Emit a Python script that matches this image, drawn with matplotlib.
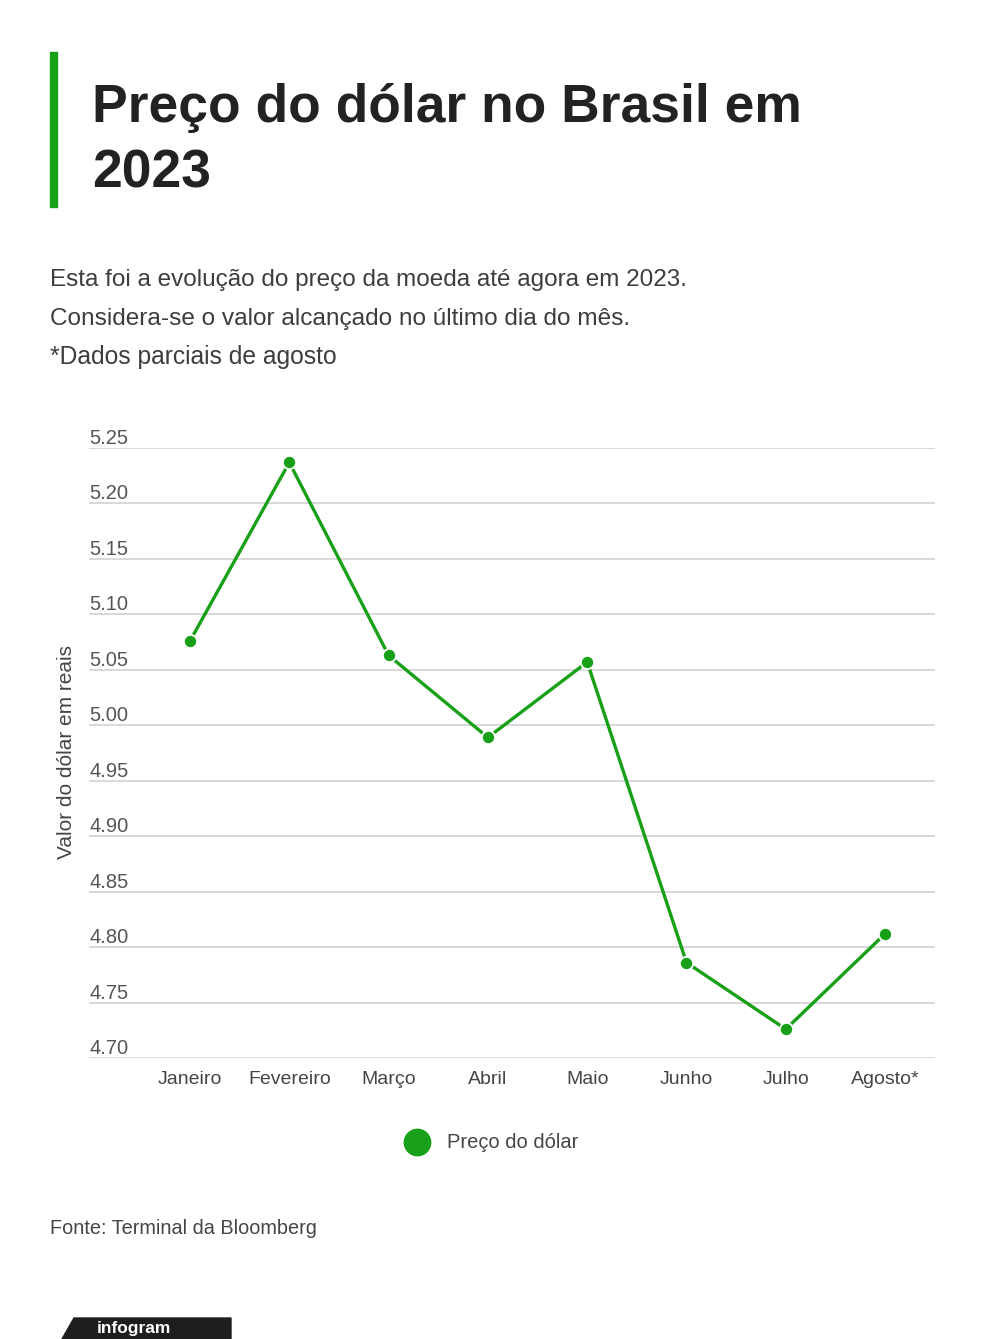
import matplotlib
matplotlib.use("Agg")
import matplotlib.pyplot as plt
from matplotlib.patches import Rectangle, Polygon
from matplotlib.lines import Line2D
import matplotlib.transforms as mtransforms

# ---------------- data ----------------
months = ["Janeiro", "Fevereiro", "Março", "Abril", "Maio", "Junho", "Julho", "Agosto*"]
prices = [5.076, 5.237, 5.063, 4.989, 5.057, 4.786, 4.726, 4.812]
yticks = [4.70, 4.75, 4.80, 4.85, 4.90, 4.95, 5.00, 5.05, 5.10, 5.15, 5.20, 5.25]
ytick_labels = ["4.70", "4.75", "4.80", "4.85", "4.90", "4.95", "5.00", "5.05", "5.10", "5.15", "5.20", "5.25"]

title_lines = ["Preço do dólar no Brasil em", "2023"]
subtitle_lines = ["Esta foi a evolução do preço da moeda até agora em 2023.",
                  "Considera-se o valor alcançado no último dia do mês.",
                  "*Dados parciais de agosto"]
ylabel = "Valor do dólar em reais"
legend_label = "Preço do dólar"
source = "Fonte: Terminal da Bloomberg"

GREEN = "#18a018"
FONT = ["Liberation Sans", "DejaVu Sans"]

W, H = 1000, 1339
fig = plt.figure(figsize=(W / 100, H / 100), dpi=100)
fig.patch.set_facecolor("white")

def X(px):
    return px / W

def Y(py):
    return 1 - py / H

renderer = fig.canvas.get_renderer()

def fit(t, target_w):
    w = t.get_window_extent(renderer).width
    t.set_fontsize(t.get_fontsize() * target_w / w)

# ---------------- header ----------------
fig.patches.append(Rectangle((X(50), Y(207)), X(7), (207 - 52) / H,
                             transform=fig.transFigure, color=GREEN))
t1 = fig.text(X(92), Y(122), title_lines[0], fontsize=40, fontweight="bold",
              color="#222222", family=FONT, va="baseline", ha="left")
fit(t1, 708)
t2 = fig.text(X(92), Y(188), title_lines[1], fontsize=t1.get_fontsize(), fontweight="bold",
              color="#222222", family=FONT, va="baseline", ha="left")

sub_base = [286, 325, 364]
sub_widths = [639, 583, 288]
for line, b, w in zip(subtitle_lines, sub_base, sub_widths):
    t = fig.text(X(50), Y(b), line, fontsize=17, color="#3d3d3d", family=FONT,
                 va="baseline", ha="left")
    fit(t, w)

# ---------------- axes ----------------
left, right, top, bottom = 89, 935, 448, 1058
ax = fig.add_axes([X(left), Y(bottom), (right - left) / W, (bottom - top) / H])
ax.set_facecolor("none")
cx0, step = 190, 99.3
ax.set_xlim((left - cx0) / step, (right - cx0) / step)
ax.set_ylim(yticks[0], yticks[-1])
for s in ax.spines.values():
    s.set_visible(False)

for v in yticks:
    ax.axhline(v, color="#d6d6d6", lw=1.3, zorder=1)

xs = list(range(len(months)))
ax.plot(xs, prices, color=GREEN, lw=2.4, marker="o", markersize=9.5,
        markerfacecolor=GREEN, markeredgecolor="white", markeredgewidth=1.3, zorder=3,
        clip_on=False)

ax.set_xticks(xs)
ax.set_xticklabels(months, fontsize=14, color="#454545", family=FONT)
ax.tick_params(axis="x", length=0, pad=9)
ax.set_yticks([])

trans = mtransforms.blended_transform_factory(ax.transAxes, ax.transData)
trans = mtransforms.offset_copy(trans, fig=fig, x=0, y=4, units="dots")
for v, lab in zip(yticks, ytick_labels):
    ax.text(0, v, lab, transform=trans, fontsize=14.5, color="#555555", family=FONT,
            ha="left", va="baseline")

fig.text(X(67), Y(752), ylabel, rotation=90, fontsize=15, color="#454545",
         family=FONT, ha="center", va="center")

# ---------------- legend ----------------
fig.lines.append(Line2D([X(417)], [Y(1142)], marker="o", markersize=19,
                        color=GREEN, markeredgecolor=GREEN, transform=fig.transFigure))
fig.text(X(447), Y(1142), legend_label, fontsize=14.5, color="#454545", family=FONT,
         ha="left", va="center")

# ---------------- source ----------------
ts = fig.text(X(50), Y(1234), source, fontsize=14, color="#454545", family=FONT,
              ha="left", va="baseline")
fit(ts, 267)

# ---------------- logo ----------------
fig.patches.append(Polygon([(X(62), Y(1339)), (X(74), Y(1318)), (X(231), Y(1318)), (X(231), Y(1339))],
                           closed=True, transform=fig.transFigure, color="#1e1e1e"))
fig.text(X(97), Y(1333), "infogram", fontsize=12.5, fontweight="bold", color="white",
         family=FONT, ha="left", va="baseline")

fig.savefig("out.png", dpi=100, facecolor="white")
